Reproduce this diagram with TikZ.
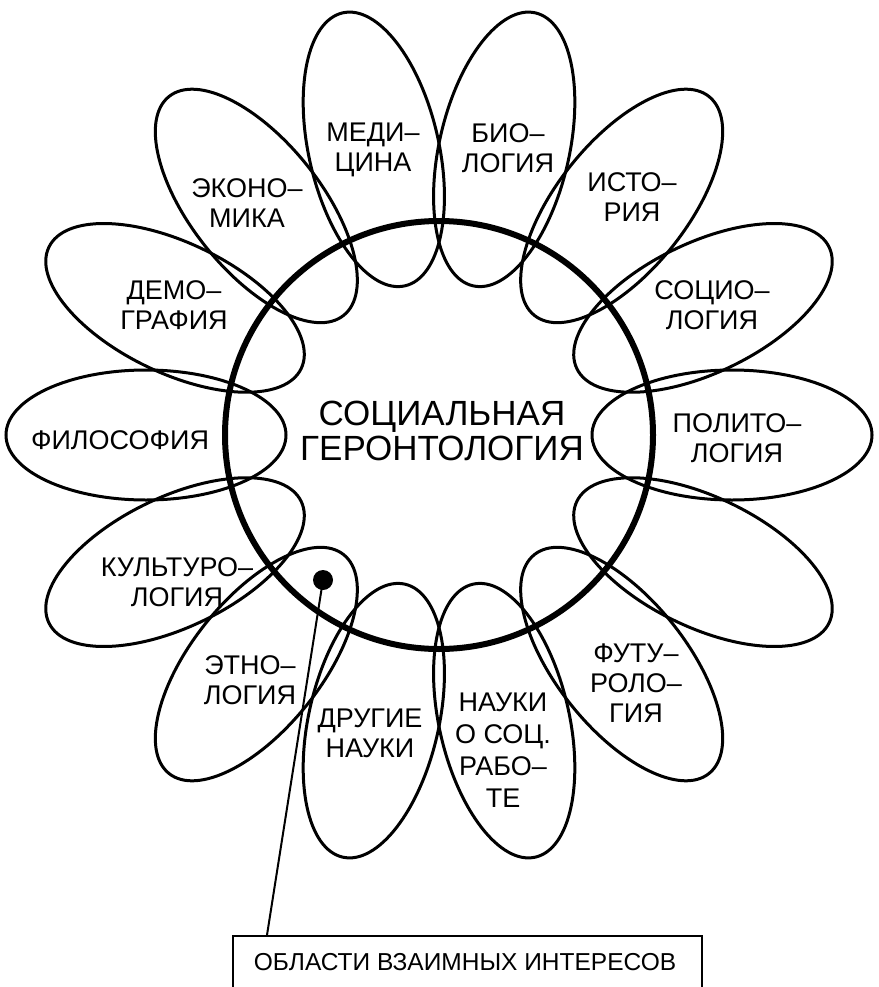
\documentclass[tikz,border=0pt]{standalone}
\usepackage{fontspec}
\setmainfont{Liberation Sans}
\begin{document}
\begin{tikzpicture}[x=1pt,y=1pt,
  petal/.style={line width=3pt},
  ring/.style={line width=6pt},
  lbl/.style={font=\fontsize{27}{30}\selectfont, align=center, inner sep=0pt},
  ctr/.style={font=\fontsize{35}{35}\selectfont, align=center, inner sep=0pt},
  boxlbl/.style={font=\fontsize{24.5}{28}\selectfont, inner sep=0pt},
]
\path[use as bounding box] (0,0) rectangle (878,-987);
\clip (0,0) rectangle (878,-987);
\coordinate (C) at (439,-435);
% petals
\foreach \i in {0,...,13} {
  \pgfmathsetmacro\ang{\i*360/14}
  \draw[petal, shift={(C)}, rotate=\ang] (293,0) ellipse [x radius=140pt, y radius=65pt];
}
% central circle
\draw[ring] (C) circle [radius=214pt];
\node[ctr] (center) at (442,-431) {СОЦИАЛЬНАЯ\\ГЕРОНТОЛОГИЯ};
% labels
\node[lbl] (polit) at (737,-438) {ПОЛИТО–\\ЛОГИЯ};
\node[lbl] (socio) at (712,-305) {СОЦИО–\\ЛОГИЯ};
\node[lbl] (hist) at (632,-197) {ИСТО–\\РИЯ};
\node[lbl] (bio) at (508,-148) {БИО–\\ЛОГИЯ};
\node[lbl] (med) at (373,-150) {МЕДИ–\\ЦИНА};
\node[lbl] (econ) at (247,-203) {ЭКОНО–\\МИКА};
\node[lbl] (demo) at (174,-305) {ДЕМО–\\ГРАФИЯ};
\node[lbl] (phil) at (120,-440) {ФИЛОСОФИЯ};
\node[lbl] (cult) at (177,-582) {КУЛЬТУРО–\\ЛОГИЯ};
\node[lbl] (ethno) at (250,-680) {ЭТНО–\\ЛОГИЯ};
\node[lbl] (other) at (370,-733) {ДРУГИЕ\\НАУКИ};
\node[lbl, font=\fontsize{27}{32}\selectfont] (social) at (503,-750) {НАУКИ\\О СОЦ.\\РАБО–\\ТЕ};
\node[lbl] (futur) at (636,-683) {ФУТУ–\\РОЛО–\\ГИЯ};
% dot, leader and box
\node[circle, fill=black, inner sep=0pt, minimum size=20pt] (dot) at (323,-580) {};
\node[draw, line width=2pt, minimum width=469pt, minimum height=100pt, anchor=north, inner sep=0pt] (box) at (467.5,-935) {};
\node[boxlbl] (boxtxt) at (465,-962) {ОБЛАСТИ ВЗАИМНЫХ ИНТЕРЕСОВ};
\coordinate (lend) at (267,-935);
\draw[line width=2pt] (dot.center) -- (lend);
\end{tikzpicture}
\end{document}
